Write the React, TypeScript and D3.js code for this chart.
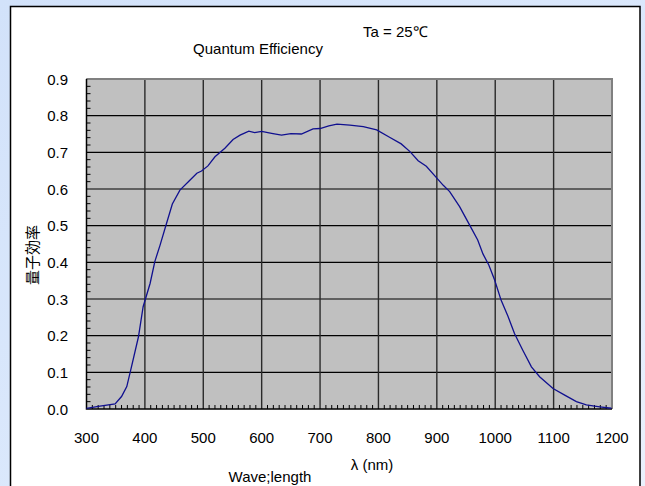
import React from 'react'
import * as d3 from 'd3'

// wavelength (nm) and quantum efficiency
const wavelengths = [
  300, 323, 349, 360, 369, 377, 389, 397, 409, 417, 426, 437, 447, 460, 477, 489, 497, 508, 520, 537,
  551, 563, 578, 588, 600, 617, 634, 650, 668, 688, 700, 715, 729, 751, 774, 797, 819, 839, 854, 868,
  882, 897, 911, 922, 939, 956, 970, 979, 989, 999, 1010, 1022, 1033, 1047, 1062, 1076, 1099, 1119, 1139, 1156,
  1179, 1199,
]
const efficiency = [
  0.002, 0.008, 0.014, 0.034, 0.061, 0.115, 0.197, 0.279, 0.343, 0.402, 0.447, 0.506, 0.559, 0.597, 0.624, 0.643,
  0.649, 0.663, 0.688, 0.711, 0.735, 0.747, 0.758, 0.754, 0.757, 0.752, 0.747, 0.751, 0.75, 0.764, 0.765, 0.772,
  0.777, 0.774, 0.77, 0.761, 0.741, 0.723, 0.702, 0.677, 0.662, 0.635, 0.61, 0.593, 0.552, 0.502, 0.461, 0.423,
  0.393, 0.352, 0.297, 0.252, 0.206, 0.161, 0.115, 0.088, 0.056, 0.038, 0.02, 0.011, 0.006, 0.002,
]
const xTicks = [300, 400, 500, 600, 700, 800, 900, 1000, 1100, 1200]
const yTicks = [0, 0.1, 0.2, 0.3, 0.4, 0.5, 0.6, 0.7, 0.8, 0.9]

const title = 'Quantum Efficiency'
const condition = 'Ta = 25℃'
const yTitle = '量子効率'
const xUnit = 'λ (nm)'
const xTitle = 'Wave;length'

const W = 645
const H = 486
const plot = { left: 86.5, right: 612, top: 79, bottom: 409 }
const font = '"Liberation Sans Narrow", "Liberation Sans", Arial, sans-serif'
const fs = 15

export default function App() {
  const x = d3.scaleLinear().domain([300, 1200]).range([plot.left, plot.right])
  const y = d3.scaleLinear().domain([0, 0.9]).range([plot.bottom, plot.top])

  const points = wavelengths.map((w, i) => [w, efficiency[i]] as [number, number])
  const line = d3
    .line<[number, number]>()
    .x((d) => x(d[0]))
    .y((d) => y(d[1]))

  const xMinor = d3.range(300, 1201, 10).filter((v) => v % 100 !== 0)
  const yMinor = d3.range(0, 0.9001, 0.02).filter((v) => Math.abs(v * 10 - Math.round(v * 10)) > 0.01)

  return (
    <svg width={W} height={H} style={{ position: 'absolute', left: 0, top: 0 }} fontFamily={font}>
      <defs>
        <linearGradient id="bg" x1="0" y1="0" x2="1" y2="1">
          <stop offset="0%" stopColor="#d2e2fa" />
          <stop offset="60%" stopColor="#dce9fc" />
          <stop offset="100%" stopColor="#eaf1fd" />
        </linearGradient>
      </defs>
      <rect x={0} y={0} width={W} height={H} fill="url(#bg)" />
      <rect x={10.5} y={6.5} width={629.5} height={H + 10} fill="#fff" stroke="#000" strokeWidth={1.5} />

      <rect
        x={plot.left}
        y={plot.top}
        width={plot.right - plot.left}
        height={plot.bottom - plot.top}
        fill="#c0c0c0"
      />

      {/* grid */}
      {yTicks.slice(1).map((t) => (
        <line key={'gy' + t} x1={plot.left} x2={plot.right} y1={y(t)} y2={y(t)} stroke="#000" strokeWidth={1.2} />
      ))}
      {xTicks.slice(1, -1).map((t) => (
        <line key={'gx' + t} x1={x(t)} x2={x(t)} y1={plot.top} y2={plot.bottom} stroke="#2a2a2a" strokeWidth={1.4} />
      ))}

      {/* top/right frame */}
      <path
        d={`M${plot.left},${plot.top}H${plot.right}V${plot.bottom}`}
        fill="none"
        stroke="#808080"
        strokeWidth={2}
      />

      {/* minor ticks */}
      {xMinor.map((t) => (
        <line key={'mx' + t} x1={x(t)} x2={x(t)} y1={plot.bottom} y2={plot.bottom - 4} stroke="#000" strokeWidth={1} />
      ))}
      {yMinor.map((t) => (
        <line key={'my' + t} x1={plot.left} x2={plot.left + 4} y1={y(t)} y2={y(t)} stroke="#000" strokeWidth={1} />
      ))}

      {/* axes */}
      <path
        d={`M${plot.left},${plot.top}V${plot.bottom}H${plot.right}`}
        fill="none"
        stroke="#000"
        strokeWidth={1.5}
      />

      <path d={line(points) ?? ''} fill="none" stroke="#10108f" strokeWidth={1.3} />

      {yTicks.map((t) => (
        <text key={'ly' + t} x={68} y={y(t) + 5.5} textAnchor="end" fontSize={fs} fill="#000">
          {t.toFixed(1)}
        </text>
      ))}
      {xTicks.map((t) => (
        <text key={'lx' + t} x={x(t)} y={443} textAnchor="middle" fontSize={fs} fill="#000">
          {t}
        </text>
      ))}

      <text x={258} y={54} textAnchor="middle" fontSize={fs}>
        {title}
      </text>
      <text x={363} y={37} fontSize={fs}>
        {condition}
      </text>
      <text x={372} y={470} textAnchor="middle" fontSize={fs}>
        {xUnit}
      </text>
      <text x={270} y={482} textAnchor="middle" fontSize={fs}>
        {xTitle}
      </text>
      <text
        transform="translate(38,255) rotate(-90)"
        textAnchor="middle"
        fontSize={15}
        fontFamily='"Noto Sans CJK JP", sans-serif'
      >
        {yTitle}
      </text>
    </svg>
  )
}
